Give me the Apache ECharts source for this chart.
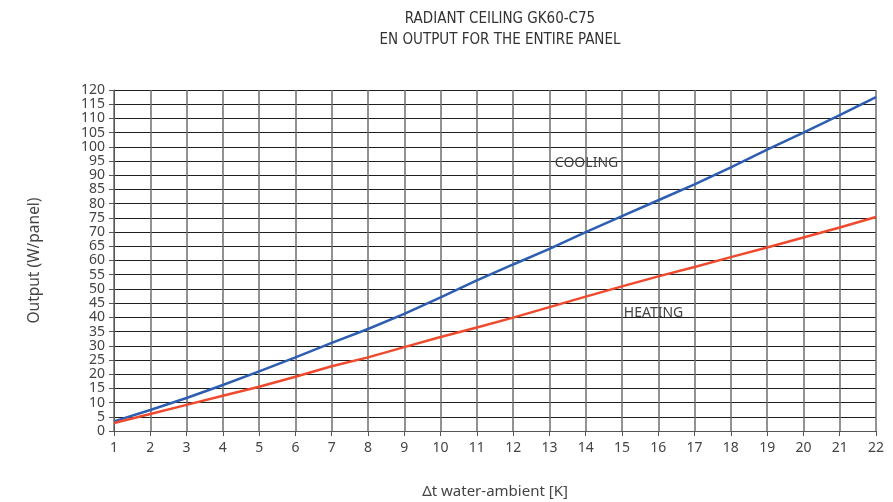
<!DOCTYPE html>
<html>
<head>
<meta charset="utf-8">
<script src="https://cdn.jsdelivr.net/npm/echarts@6/dist/echarts.min.js"></script>
<style>
  html, body { margin: 0; padding: 0; background: #fff; }
  #myChart1 { width: 893px; height: 502px; }
</style>
</head>
<body>
<div id="myChart1"></div>
<script>
// Δt water-ambient [K]
var xData = [1, 2, 3, 4, 5, 6, 7, 8, 9, 10, 11, 12, 13, 14, 15, 16, 17, 18, 19, 20, 21, 22];
// output W/panel
var coolingData = [3.4, 7.4, 11.6, 16.2, 21.0, 25.9, 31.0, 35.9, 41.2, 47.0, 53.0, 58.6, 64.1, 70.0, 75.6, 81.2, 86.8, 92.8, 99.0, 105.0, 111.2, 117.5];
var heatingData = [2.8, 6.0, 9.2, 12.4, 15.6, 19.1, 22.8, 25.9, 29.5, 33.1, 36.4, 39.9, 43.6, 47.3, 50.9, 54.4, 57.7, 61.2, 64.6, 68.1, 71.6, 75.3];
// where the series names sit, in data units
var coolingLabelAt = [13.15, 94.3];
var heatingLabelAt = [15.05, 41.5];

var font = 'Noto Sans';
var myChart1 = echarts.init(document.getElementById('myChart1'));

function pairs(xs, ys) {
  var out = [];
  for (var i = 0; i < xs.length; i++) out.push([xs[i], ys[i]]);
  return out;
}

function nameLabel(text, at) {
  return {
    symbol: 'circle',
    symbolSize: 0,
    data: [{ coord: at }],
    label: {
      show: true,
      position: 'right',
      distance: 0,
      formatter: text,
      color: '#444',
      fontFamily: font,
      fontSize: 14
    }
  };
}

var option1 = {
  animation: false,
  title: {
    text: 'RADIANT CEILING GK60-C75\nEN OUTPUT FOR THE ENTIRE PANEL',
    left: 495,
    textAlign: 'center',
    top: 4,
    textStyle: {
      color: '#333',
      fontFamily: 'DejaVu Sans Condensed',
      fontWeight: 'normal',
      fontSize: 15,
      lineHeight: 21
    }
  },
  grid: { left: 114, right: 17, top: 90, bottom: 71, outerBoundsMode: 'none', containLabel: false },
  xAxis: {
    type: 'value',
    min: 1,
    max: 22,
    interval: 1,
    name: 'Δt water-ambient [K]',
    nameLocation: 'middle',
    nameGap: 53,
    nameTextStyle: { color: '#444', fontFamily: font, fontSize: 15 },
    axisLine: { lineStyle: { color: '#555', width: 1 } },
    axisTick: { show: true, length: 5, lineStyle: { color: '#555' } },
    axisLabel: { color: '#444', fontFamily: font, fontSize: 14, margin: 10 },
    splitLine: { show: true, lineStyle: { color: '#6e6e6e', width: 1.5 } }
  },
  yAxis: {
    type: 'value',
    min: 0,
    max: 120,
    interval: 5,
    name: 'Output (W/panel)',
    nameLocation: 'middle',
    nameGap: 71,
    nameTextStyle: { color: '#444', fontFamily: font, fontSize: 15.5 },
    axisLine: { show: true, lineStyle: { color: '#555', width: 1 } },
    axisTick: { show: true, length: 5, lineStyle: { color: '#555' } },
    axisLabel: { color: '#444', fontFamily: font, fontSize: 14, margin: 9 },
    splitLine: { show: true, lineStyle: { color: '#1e1e1e', width: 1 } }
  },
  series: [
    {
      name: 'COOLING',
      type: 'line',
      showSymbol: false,
      data: pairs(xData, coolingData),
      lineStyle: { color: '#2d5eb2', width: 2.5 },
      markPoint: nameLabel('COOLING', coolingLabelAt),
      z: 3
    },
    {
      name: 'HEATING',
      type: 'line',
      showSymbol: false,
      data: pairs(xData, heatingData),
      lineStyle: { color: '#f04a2e', width: 2.5 },
      markPoint: nameLabel('HEATING', heatingLabelAt),
      z: 3
    }
  ]
};
myChart1.setOption(option1);
</script>
</body>
</html>
